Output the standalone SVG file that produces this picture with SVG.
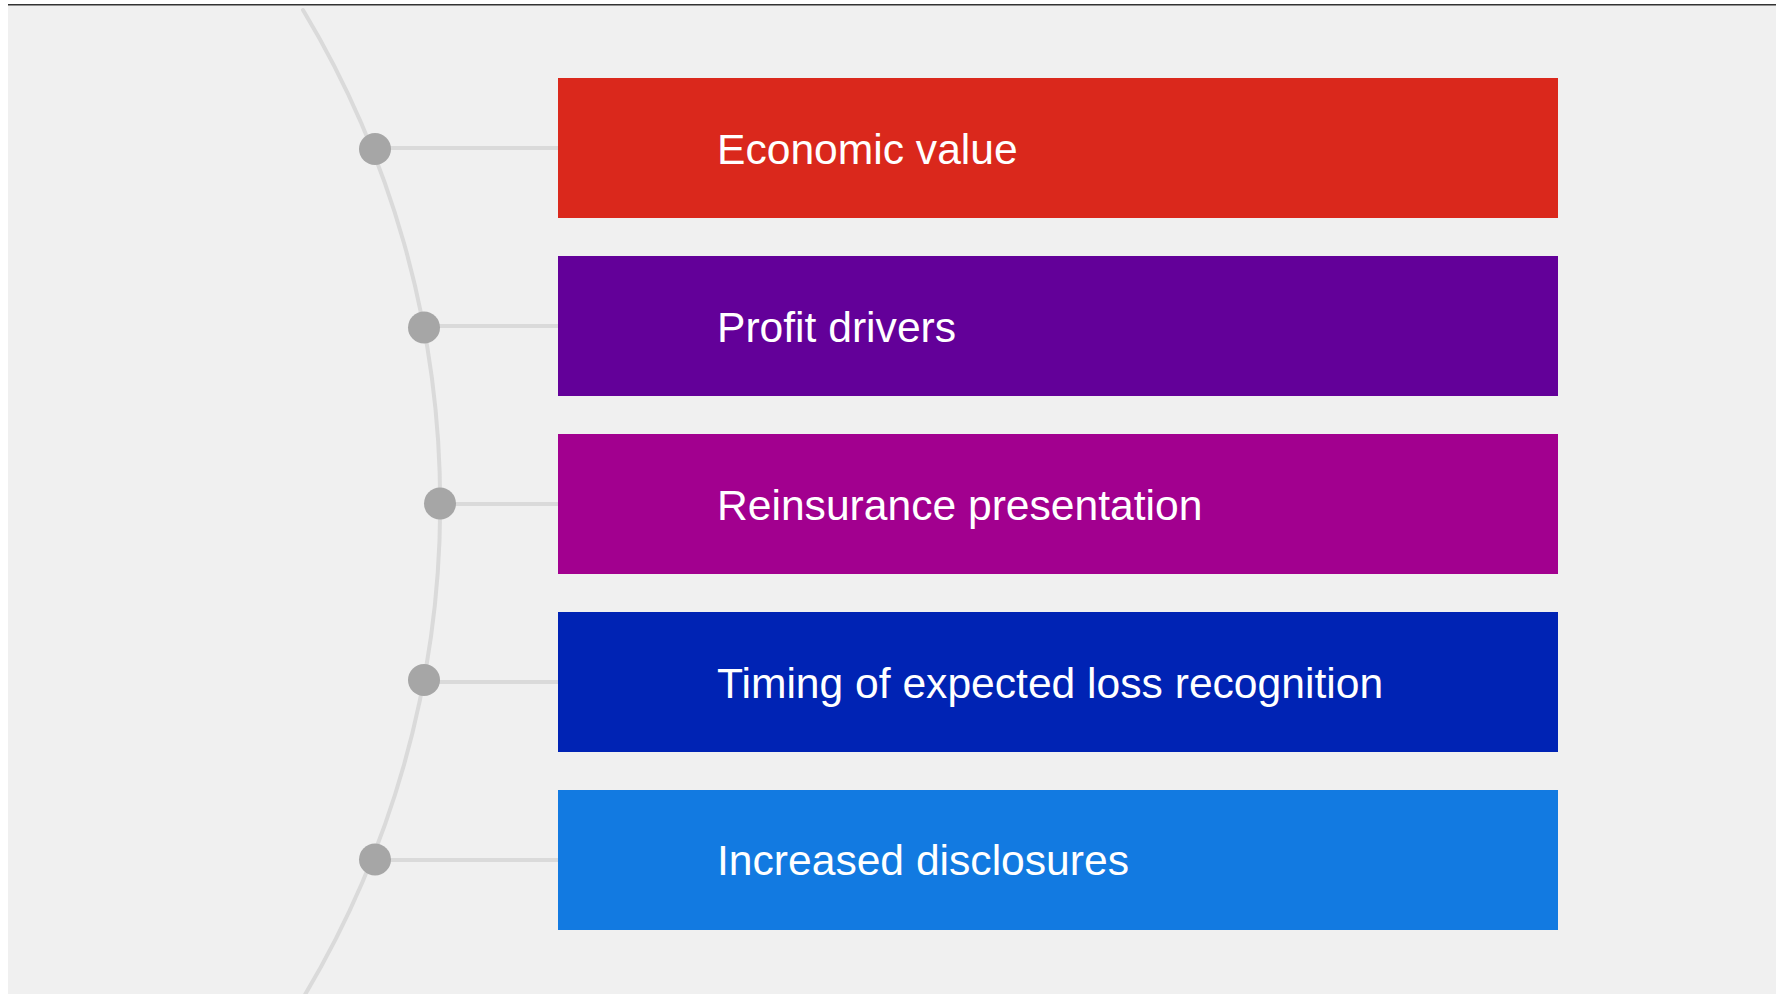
<svg xmlns="http://www.w3.org/2000/svg" width="1783" height="994" viewBox="0 0 1783 994">
  <style>
    .bar { stroke: none; }
    .label { font-family: "Liberation Sans", Arial, sans-serif; font-size: 42.6px; fill: #ffffff; }
    .spoke { stroke: #dadada; stroke-width: 4; fill: none; }
    .dot { fill: #a6a6a6; }
  </style>

  <!-- canvas -->
  <rect x="0" y="0" width="1783" height="994" fill="#ffffff"/>
  <rect x="8" y="5" width="1768" height="989" fill="#f0f0f0"/>
  <line x1="8" y1="4.8" x2="1776" y2="4.8" stroke="#333333" stroke-width="1.6"/>

  <!-- connectors: arc spine and spokes to each bar -->
  <g id="connectors">
    <path class="spoke" stroke-linecap="round" d="M 303 10 A 958 958 0 0 1 303 998"/>
    <line class="spoke" x1="375" y1="148" x2="558" y2="148"/>
    <line class="spoke" x1="424" y1="326" x2="558" y2="326"/>
    <line class="spoke" x1="440" y1="504" x2="558" y2="504"/>
    <line class="spoke" x1="424" y1="682" x2="558" y2="682"/>
    <line class="spoke" x1="375" y1="860" x2="558" y2="860"/>
  </g>

  <g id="node-economic-value">
    <circle class="dot" cx="375" cy="149" r="16"/>
    <rect class="bar" x="558" y="78" width="1000" height="140" fill="#da281c"/>
    <text class="label" x="717" y="163.5">Economic value</text>
  </g>

  <g id="node-profit-drivers">
    <circle class="dot" cx="424" cy="327.5" r="16"/>
    <rect class="bar" x="558" y="256" width="1000" height="140" fill="#630099"/>
    <text class="label" x="717" y="341.5">Profit drivers</text>
  </g>

  <g id="node-reinsurance-presentation">
    <circle class="dot" cx="440" cy="503.5" r="16"/>
    <rect class="bar" x="558" y="434" width="1000" height="140" fill="#a2008f"/>
    <text class="label" x="717" y="519.5">Reinsurance presentation</text>
  </g>

  <g id="node-timing-expected-loss">
    <circle class="dot" cx="424" cy="680" r="16"/>
    <rect class="bar" x="558" y="612" width="1000" height="140" fill="#0023b4"/>
    <text class="label" x="717" y="697.5">Timing of expected loss recognition</text>
  </g>

  <g id="node-increased-disclosures">
    <circle class="dot" cx="375" cy="859.5" r="16"/>
    <rect class="bar" x="558" y="790" width="1000" height="140" fill="#127ae1"/>
    <text class="label" x="717" y="875">Increased disclosures</text>
  </g>
</svg>
